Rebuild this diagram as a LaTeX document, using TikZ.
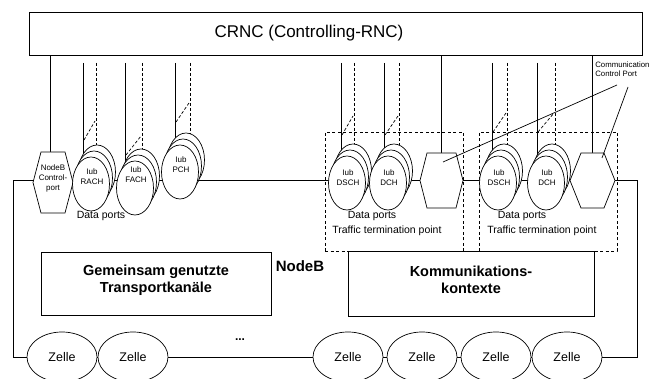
\documentclass[tikz,border=0pt]{standalone}
\usepackage{fontspec}
\setmainfont{Liberation Sans}
\usetikzlibrary{shapes.geometric}
\tikzset{
  chanell/.style={ellipse, draw, fill=white, minimum width=37pt, minimum height=54pt, inner sep=0pt},
  tinytxt/.style={font=\fontsize{8}{10}\selectfont, align=center, inner sep=0pt},
  lbl/.style={font=\fontsize{10.5}{13}\selectfont, inner sep=0pt},
  bigbox/.style={draw, fill=white, inner sep=0pt},
  bigtxt/.style={font=\bfseries\fontsize{14.5}{17}\selectfont, align=center, inner sep=0pt},
  zelle/.style={ellipse, draw, fill=white, minimum width=70pt, minimum height=50pt, inner sep=0pt, font=\fontsize{12.5}{14}\selectfont},
  dsh/.style={dash pattern=on 3pt off 2pt},
  tpbox/.style={draw, dash pattern=on 3pt off 2.5pt, inner sep=0pt},
}
\newcommand\hexat[5]{%
  \draw[fill=white] (#1-#3,#2) -- ++(#5,-#4) -- ++(2*#3-2*#5,0) -- ++(#5,#4) -- ++(-#5,#4) -- ++(-2*#3+2*#5,0) -- cycle;}
\newcommand\chstack[8]{%
  \coordinate (#1-s) at (#4,63);
  \coordinate (#1-d) at (#5,63);
  \coordinate (#1-sb) at (#4,#3);
  \coordinate (#1-db) at (#5,#3);
  \coordinate (#1-ga) at (#4+1,#6);
  \coordinate (#1-gb) at (#5-1,#6-19);
  \draw (#1-s) -- (#1-sb);
  \draw[dsh] (#1-d) -- (#1-db);
  \draw[dsh] (#1-ga) -- (#1-gb);
  \node[chanell] (#1-3) at (#2+6,#3-12) {};
  \node[chanell] (#1-2) at (#2+3,#3-6) {};
  \node[chanell] (#1) at (#2,#3) {};
  \node[tinytxt] (#1-t) at (#2+1,#8) {Iub\\#7};
}
\begin{document}
\begin{tikzpicture}[x=1pt,y=-1pt,line width=0.7pt]
\useasboundingbox (0,0) rectangle (651,379);
\clip (0,0) rectangle (651,379);

% CRNC box
\node[draw, minimum width=613pt, minimum height=43pt, inner sep=0pt] (crnc) at (335.5,33.5) {};
\node[font=\fontsize{17}{20}\selectfont, inner sep=0pt] (crnc-t) at (309,33) {CRNC (Controlling-RNC)};

% traffic termination boxes
\node[tpbox, minimum width=138pt, minimum height=119pt] (ttpa) at (394,191.5) {};
\node[tpbox, minimum width=138pt, minimum height=119pt] (ttpb) at (548,191.5) {};

% main loop
\coordinate (lt) at (13,180);
\coordinate (rt) at (637,180);
\coordinate (rb) at (637,357);
\coordinate (lb) at (13,357);
\draw (lt) -- (rt) -- (rb) -- (lb) -- cycle;

% control ports
\coordinate (nbcp) at (50,152);
\coordinate (cpa) at (441,153);
\coordinate (cpb) at (592,153);
\draw (crnc.south -| nbcp) -- (nbcp);
\draw (crnc.south -| cpa) -- (cpa);
\draw (crnc.south -| cpb) -- (cpb);
\hexat{53}{182.5}{20}{30.5}{8}
\hexat{441.5}{180.5}{21.5}{27.5}{7}
\hexat{592.5}{180.5}{22.5}{27.5}{11}
\node[tinytxt] (nbcp-t) at (53,178) {NodeB\\Control-\\port};

% channel stacks
\chstack{rach}{91}{184}{83}{96}{140}{RACH}{177}
\chstack{fach}{135}{188}{125}{142}{155}{FACH}{175}
\chstack{pch}{180}{172}{175}{190}{122}{PCH}{165}
\chstack{dscha}{347}{183}{341}{354}{135}{DSCH}{178}
\chstack{dcha}{388}{183}{384}{399}{135}{DCH}{178}
\chstack{dschb}{498}{183}{492}{507}{132}{DSCH}{178}
\chstack{dchb}{546}{183}{537}{555}{132}{DCH}{178}

% labels
\node[lbl] (dp0) at (101,216) {Data ports};
\node[lbl] (dp1) at (372,216) {Data ports};
\node[lbl, anchor=west] (ttp1) at (332,231) {Traffic termination point};
\node[lbl] (dp2) at (522,216) {Data ports};
\node[lbl, anchor=west] (ttp2) at (487,231) {Traffic termination point};

% communication control port label and pointers
\node[font=\fontsize{7.8}{9}\selectfont, align=left, anchor=north west, inner sep=0pt] (ccp) at (595,62) {Communication\\Control Port};
\coordinate (ccp-a) at (617,85);
\coordinate (ccp-b) at (628,87);
\coordinate (cpa-in) at (443,162);
\coordinate (cpb-in) at (602,158);
\draw (ccp-a) -- (cpa-in);
\draw (ccp-b) -- (cpb-in);

% big boxes
\node[bigbox, minimum width=230pt, minimum height=63pt] (gem) at (156,283.5) {};
\node[bigtxt] (gem-t) at (156,280) {Gemeinsam genutzte\\Transportkanäle};
\node[bigbox, minimum width=246pt, minimum height=65pt] (kom) at (471,283.5) {};
\node[bigtxt] (kom-t) at (471,280) {Kommunikations-\\kontexte};
\node[font=\bfseries\fontsize{15}{17}\selectfont, inner sep=0pt] (nodeb) at (300,266) {NodeB};

% cells
\node[zelle] (z1) at (62,357) {Zelle};
\node[zelle] (z2) at (133,357) {Zelle};
\node[font=\bfseries\fontsize{12}{14}\selectfont, inner sep=0pt] (dots) at (240,340) {...};
\node[zelle] (z3) at (348,357) {Zelle};
\node[zelle] (z4) at (422,357) {Zelle};
\node[zelle] (z5) at (496,357) {Zelle};
\node[zelle] (z6) at (567,357) {Zelle};
\end{tikzpicture}
\end{document}
